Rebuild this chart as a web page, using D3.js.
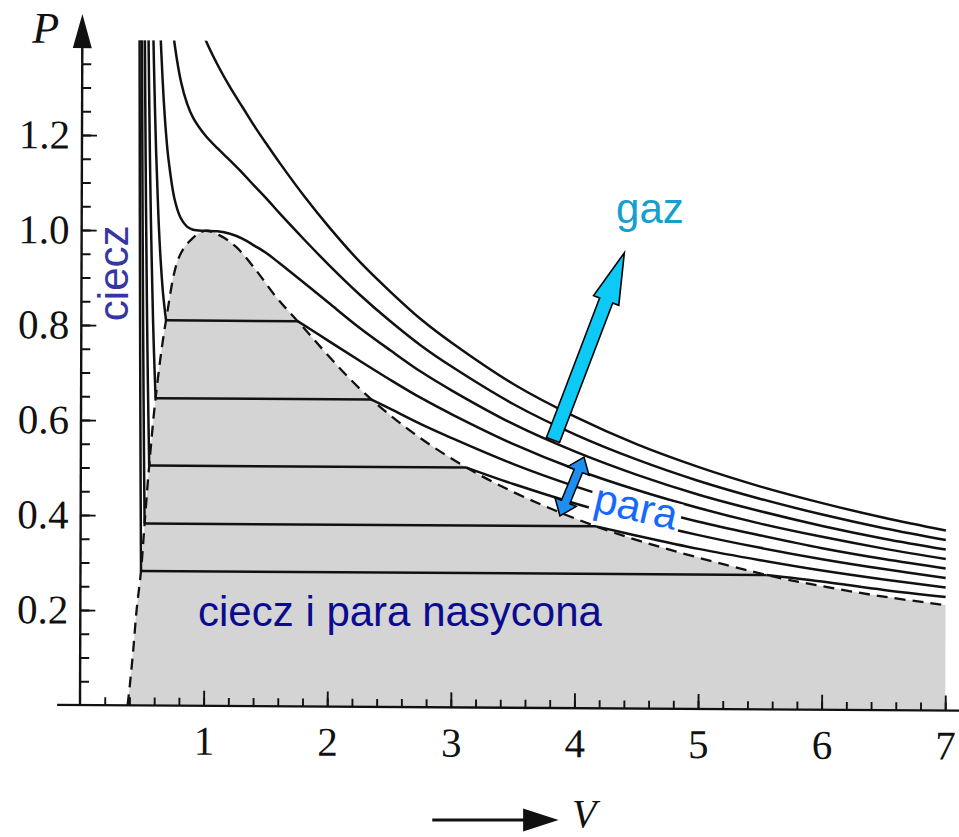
<!DOCTYPE html>
<html><head><meta charset="utf-8">
<script src="https://cdn.jsdelivr.net/npm/d3@7/dist/d3.min.js"></script>
<style>html,body{margin:0;padding:0;background:#fff}</style>
</head><body>
<svg id="chart" width="959" height="837"></svg>
<script>
// ---------- data (V, P) ----------
const isoT110 = [[0.95,1.433],[1.0,1.400],[1.1,1.347],[1.2,1.301],[1.3,1.260],[1.4,1.219],[1.5,1.181],[1.6,1.144],[1.8,1.074],[2.0,1.010],[2.25,0.937],[2.5,0.874],[2.75,0.816],[3.0,0.767],[3.5,0.681],[4.0,0.613],[4.5,0.556],[5.0,0.509],[5.5,0.469],[6.0,0.435],[6.5,0.405],[7.0,0.379]];
const isoT105 = [[0.72,1.454],[0.75,1.387],[0.8,1.313],[0.85,1.267],[0.9,1.237],[1.0,1.200],[1.1,1.173],[1.2,1.148],[1.3,1.122],[1.4,1.094],[1.5,1.067],[1.6,1.038],[1.8,0.983],[2.0,0.930],[2.25,0.868],[2.5,0.812],[2.75,0.761],[3.0,0.717],[3.5,0.639],[4.0,0.576],[4.5,0.524],[5.0,0.480],[5.5,0.443],[6.0,0.411],[6.5,0.383],[7.0,0.359]];
const isoT100 = [[0.63,1.430],[0.64,1.372],[0.66,1.276],[0.68,1.204],[0.70,1.151],[0.75,1.067],[0.8,1.027],[0.85,1.009],[0.9,1.002],[1.0,1.000],[1.1,0.999],[1.2,0.994],[1.3,0.984],[1.4,0.969],[1.5,0.953],[1.6,0.933],[1.8,0.892],[2.0,0.850],[2.25,0.798],[2.5,0.751],[2.75,0.706],[3.0,0.667],[3.5,0.597],[4.0,0.540],[4.5,0.492],[5.0,0.451],[5.5,0.417],[6.0,0.387],[6.5,0.361],[7.0,0.339]];

const liqT095 = [[0.57,1.470],[0.58,1.352],[0.60,1.167],[0.62,1.033],[0.64,0.937],[0.66,0.868],[0.685,0.811]];
const vapT095 = [[1.75,0.811],[2.0,0.770],[2.25,0.729],[2.5,0.689],[2.75,0.651],[3.0,0.617],[3.5,0.555],[4.0,0.503],[4.5,0.460],[5.0,0.423],[5.5,0.391],[6.0,0.364],[6.5,0.340],[7.0,0.319]];
const liqT090 = [[0.53,1.523],[0.54,1.325],[0.55,1.160],[0.56,1.022],[0.58,0.812],[0.59,0.733],[0.603,0.647]];
const vapT090 = [[2.35,0.647],[2.5,0.628],[2.75,0.596],[3.0,0.567],[3.5,0.513],[4.0,0.467],[4.5,0.428],[5.0,0.394],[5.5,0.366],[6.0,0.340],[6.5,0.318],[7.0,0.299]];
const liqT085 = [[0.505,1.440],[0.51,1.296],[0.52,1.048],[0.53,0.845],[0.54,0.680],[0.553,0.505]];
const vapT085 = [[3.12,0.505],[3.5,0.471],[4.0,0.431],[4.5,0.396],[5.0,0.366],[5.5,0.340],[6.0,0.317],[6.5,0.297],[7.0,0.279]];
const liqT080 = [[0.48,1.524],[0.485,1.312],[0.49,1.122],[0.495,0.953],[0.50,0.800],[0.51,0.541],[0.5175,0.383]];
const vapT080 = [[4.17,0.383],[4.5,0.364],[5.0,0.337],[5.5,0.314],[6.0,0.293],[6.5,0.275],[7.0,0.259]];
const liqT075 = [[0.462,1.489],[0.465,1.316],[0.47,1.053],[0.475,0.822],[0.48,0.615],[0.4897,0.283]];
const vapT075 = [[5.55,0.283],[6.0,0.270],[6.5,0.253],[7.0,0.239]];

// coexistence (dashed) curve
const binodal = [[0.385,0],[0.404,0.046],[0.429,0.116],[0.455,0.200],[0.4897,0.283],[0.5175,0.383],[0.553,0.505],[0.603,0.647],[0.685,0.811],[0.79,0.945],[0.897,0.984],[1.0,1.0],[1.113,0.991],[1.248,0.967],[1.411,0.918],[1.574,0.862],[1.75,0.811],[2.35,0.647],[3.12,0.505],[4.17,0.383],[5.55,0.283],[5.98,0.261],[6.47,0.240],[7.0,0.222]];

// ticks
const xMajorTicks = [1,2,3,4,5,6,7];
const xMinorTicks = d3.range(0.2, 7.01, 0.2);
const yMajorTicks = [0.2,0.4,0.6,0.8,1.0,1.2];
const yTickLabels = ["0.2","0.4","0.6","0.8","1.0","1.2"];
const yMinorTicks = d3.range(0.05, 1.36, 0.05);

// annotations (data coordinates)
const gazArrow = [[3.827,0.558],[4.404,0.952]];
const paraArrow = [[3.883,0.398],[4.078,0.522]];
const labels = [
  {text:"gaz", at:[4.337,1.015], rot:0, color:"#159fcf"},
  {text:"para", at:[4.143,0.408], rot:13, color:"#1668ff", box:true},
  {text:"ciecz i para nasycona", at:[0.955,0.166], rot:0, color:"#0b0b8f"},
  {text:"ciecz", at:[0.388,0.808], rot:-90, color:"#3636a2"}
];

// ---------- drawing ----------
const svg = d3.select("#chart");
const x = d3.scaleLinear().domain([0,7]).range([80, 945.2]);
const y = d3.scaleLinear().domain([0,1.4]).range([705, 40]);

const ox = x(0), oy = y(0);
const plot = svg.append("g")
  .attr("transform", `translate(${ox},${oy}) matrix(1,0.0064,-0.0035,1,0,0) translate(${-ox},${-oy})`);

svg.append("defs").append("clipPath").attr("id","clip")
  .append("rect").attr("x", x(-0.3)).attr("y", y(1.4))
  .attr("width", x(7.0)-x(-0.3)+1).attr("height", y(0)-y(1.4)+2);

const smooth = d3.line().x(d=>x(d[0])).y(d=>y(d[1])).curve(d3.curveCatmullRom.alpha(0.5));
const straight = d3.line().x(d=>x(d[0])).y(d=>y(d[1]));

// gray two-phase region
plot.append("path")
  .datum(binodal)
  .attr("d", d3.area().x(d=>x(d[0])).y0(y(0)).y1(d=>y(d[1])).curve(d3.curveCatmullRom.alpha(0.5)))
  .attr("fill", "#d4d4d4");

// dashed coexistence line
plot.append("path").datum(binodal).attr("d", smooth)
  .attr("fill","none").attr("stroke","#111").attr("stroke-width",2.3)
  .attr("stroke-dasharray","11,7");

const curves = plot.append("g").attr("clip-path","url(#clip)")
  .attr("fill","none").attr("stroke","#111").attr("stroke-width",2.5)
  .attr("stroke-linejoin","round");

[isoT110, isoT105, isoT100].forEach(c => curves.append("path").datum(c).attr("d", smooth));
[[liqT095,vapT095],[liqT090,vapT090],[liqT085,vapT085],[liqT080,vapT080],[liqT075,vapT075]].forEach(([liq,vap]) => {
  curves.append("path").datum(liq).attr("d", smooth);
  curves.append("path").datum([liq[liq.length-1], vap[0]]).attr("d", straight);
  curves.append("path").datum(vap).attr("d", smooth);
});

// axes
const tickFont = "'Liberation Serif', 'Times New Roman', serif";
function styleAxis(g){
  g.select(".domain").remove();
  g.selectAll(".tick line").attr("stroke","#111").attr("stroke-width",1.9);
  g.selectAll(".tick text").attr("fill","#111").style("font-family",tickFont).style("font-size","41px");
}
plot.append("g").attr("transform",`translate(0,${y(0)})`)
  .call(d3.axisBottom(x).tickValues(xMinorTicks).tickSize(-8).tickFormat("")).call(styleAxis);
plot.append("g").attr("transform",`translate(0,${y(0)})`)
  .call(d3.axisBottom(x).tickValues(xMajorTicks).tickSize(-15).tickPadding(20).tickFormat(d3.format("d"))).call(styleAxis);
plot.append("g").attr("transform",`translate(${x(0)},0)`)
  .call(d3.axisLeft(y).tickValues(yMinorTicks).tickSize(-9).tickFormat("")).call(styleAxis);
plot.append("g").attr("transform",`translate(${x(0)},0)`)
  .call(d3.axisLeft(y).tickValues(yMajorTicks).tickSize(-15).tickPadding(12).tickFormat((d,i)=>yTickLabels[i])).call(styleAxis);

plot.append("line").attr("x1",x(-0.185)).attr("x2",x(7.13)).attr("y1",y(0)).attr("y2",y(0))
  .attr("stroke","#111").attr("stroke-width",2.4);
plot.append("line").attr("x1",x(0)).attr("x2",x(0)).attr("y1",y(0)).attr("y2",y(1.39))
  .attr("stroke","#111").attr("stroke-width",2.4);
plot.append("path")
  .attr("d",`M${x(0)},${y(1.455)} L${x(0)-9.5},${y(1.383)} L${x(0)+9.5},${y(1.383)} Z`)
  .attr("fill","#111");
plot.append("text").text("P").attr("x", x(0)-50).attr("y", y(1.4)+3)
  .style("font-family",tickFont).style("font-style","italic").style("font-size","44px").attr("fill","#111");

// V arrow + label
svg.append("line").attr("x1",x(2.85)).attr("x2",x(3.6)).attr("y1",y(0)+115).attr("y2",y(0)+115)
  .attr("stroke","#111").attr("stroke-width",3);
svg.append("path")
  .attr("d",`M${x(3.585)},${y(0)+103.5} L${x(3.872)},${y(0)+115} L${x(3.585)},${y(0)+126.5} Z`).attr("fill","#111");
svg.append("text").text("V").attr("x", x(3.98)).attr("y", y(0)+122)
  .style("font-family",tickFont).style("font-style","italic").style("font-size","40px").attr("fill","#111");

// block arrows
function blockArrow(p0, p1, shw, hl, hhw, double){
  const x0=x(p0[0]), y0=y(p0[1]), x1=x(p1[0]), y1=y(p1[1]);
  const L = Math.hypot(x1-x0, y1-y0), a = Math.atan2(y1-y0, x1-x0)*180/Math.PI;
  let pts;
  if(!double){
    pts = [[0,-shw],[L-hl,-shw],[L-hl,-hhw],[L,0],[L-hl,hhw],[L-hl,shw],[0,shw]];
  } else {
    pts = [[0,0],[hl,-hhw],[hl,-shw],[L-hl,-shw],[L-hl,-hhw],[L,0],[L-hl,hhw],[L-hl,shw],[hl,shw],[hl,hhw]];
  }
  return {d: "M"+pts.map(p=>p.join(",")).join("L")+"Z", t:`translate(${x0},${y0}) rotate(${a})`};
}
const ga = blockArrow(gazArrow[0], gazArrow[1], 7, 51, 13.5, false);
svg.append("path").attr("d",ga.d).attr("transform",ga.t)
  .attr("fill","#0dc9f5").attr("stroke","#000").attr("stroke-width",1.6).attr("stroke-linejoin","miter");
const pa = blockArrow(paraArrow[0], paraArrow[1], 4.5, 15, 11.5, true);
svg.append("path").attr("d",pa.d).attr("transform",pa.t)
  .attr("fill","#1d8ff0").attr("stroke","#000").attr("stroke-width",1.5);

// labels
labels.forEach(l => {
  const g = svg.append("g").attr("transform",`translate(${x(l.at[0])},${y(l.at[1])}) rotate(${l.rot})`);
  const t = g.append("text").text(l.text).attr("x",0).attr("y",0)
    .style("font-family","'Liberation Sans', Arial, sans-serif").style("font-size","42px").attr("fill", l.color);
  if(l.box){
    const w = t.node().getComputedTextLength();
    g.insert("rect","text").attr("x",-4).attr("y",-27).attr("width",w+8).attr("height",38).attr("fill","#fff");
  }
});
</script>
</body></html>
